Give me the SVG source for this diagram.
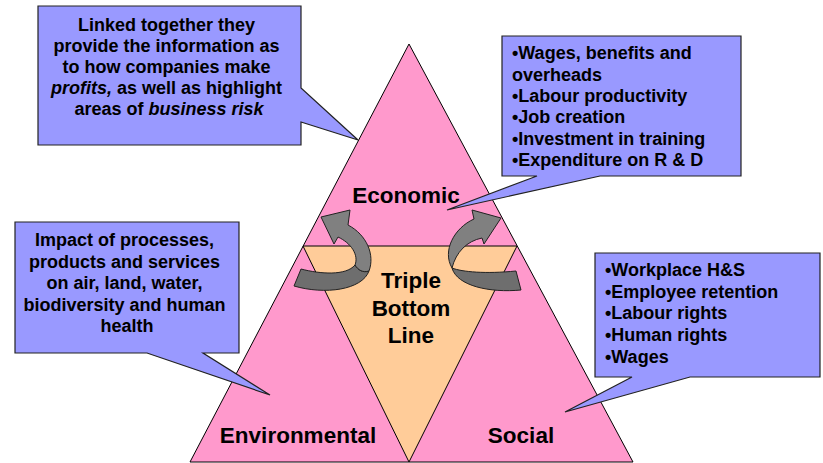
<svg xmlns="http://www.w3.org/2000/svg" width="823" height="463" viewBox="0 0 823 463">
<style>
.t{font-family:"Liberation Sans",Arial,sans-serif;font-weight:bold;fill:#000}
.c{font-size:18px}
.big{font-size:22.5px}
.call{fill:#9999FF;stroke:#222;stroke-width:1.2;stroke-linejoin:miter}
.arr{fill:#808080;stroke:#222;stroke-width:1;stroke-linejoin:round}
.arrd{fill:#6e6e6e;stroke:#222;stroke-width:1;stroke-linejoin:round}
</style>
<rect width="823" height="463" fill="#fff"/>
<g id="outer-triangle">
<path d="M409,44 L633,462 L190,462 Z" fill="#FF99CC" stroke="#000" stroke-width="1"/>
</g>
<g id="inner-triangle">
<path d="M303,246 L517,246 L409,462 Z" fill="#FFCC99" stroke="#000" stroke-width="1"/>
</g>
<g id="economic"><text class="t big" x="406" y="203" text-anchor="middle">Economic</text></g>
<g id="environmental"><text class="t big" x="298" y="443" text-anchor="middle">Environmental</text></g>
<g id="social"><text class="t big" x="521" y="443" text-anchor="middle">Social</text></g>
<g id="tbl">
<text class="t big" x="411" y="288" text-anchor="middle">Triple</text>
<text class="t big" x="411" y="316" text-anchor="middle">Bottom</text>
<text class="t big" x="411" y="343" text-anchor="middle">Line</text>
</g>
<g id="connectors">
<path class="arrd" d="M294,286 C325,295 362,290 369,271 C363,273 358,270 355,265 C346,276 320,274 301,269 Z"/>
<path class="arr" d="M355,265 C359,255 351,243 338,237 L334,244 L321,217 L350,210 L348,225 C367,235 375,255 369,271 C363,273 358,270 355,265 Z"/>
<path class="arrd" d="M452,268 C457,286 490,293 521,290 L516,271 C486,274 462,272 452,268 Z"/>
<path class="arr" d="M452,268 C442,251 454,228 474,219 L472,210 L501,218 L484,244 L482,238 C467,241 456,252 452,268 Z"/>
</g>
<g id="callout-top-left">
<path class="call" d="M38,6 H301 V88 L358,140 L301,122 V145 H38 Z"/>
<text class="t c" text-anchor="middle">
<tspan x="169" y="31">Linked together they</tspan>
<tspan x="169" y="52">provide the information as</tspan>
<tspan x="169" y="73">to how companies make</tspan>
<tspan x="169" y="94"><tspan font-style="italic">profits,</tspan> as well as highlight</tspan>
<tspan x="169" y="115">areas of <tspan font-style="italic">business risk</tspan></tspan>
</text>
</g>
<g id="callout-economic">
<path class="call" d="M502,36 H741 V176 H600 L447,210 L537,176 H502 Z"/>
<text class="t c">
<tspan x="512" y="59">•Wages, benefits and</tspan>
<tspan x="512" y="80.5">overheads</tspan>
<tspan x="512" y="102">•Labour productivity</tspan>
<tspan x="512" y="123">•Job creation</tspan>
<tspan x="512" y="144.5">•Investment in training</tspan>
<tspan x="512" y="166">•Expenditure on R &amp; D</tspan>
</text>
</g>
<g id="callout-environmental">
<path class="call" d="M15,222 H239 V353 H203 L270,395 L147,353 H15 Z"/>
<text class="t c" text-anchor="middle">
<tspan x="127" y="246">Impact of processes,</tspan>
<tspan x="127" y="267.5">products and services</tspan>
<tspan x="127" y="289">on air, land, water,</tspan>
<tspan x="127" y="310.5">biodiversity and human</tspan>
<tspan x="127" y="332">health</tspan>
</text>
</g>
<g id="callout-social">
<path class="call" d="M595,253 H820 V377 H690 L565,412 L632,377 H595 Z"/>
<text class="t c">
<tspan x="605" y="276">•Workplace H&amp;S</tspan>
<tspan x="605" y="297.5">•Employee retention</tspan>
<tspan x="605" y="319">•Labour rights</tspan>
<tspan x="605" y="341">•Human rights</tspan>
<tspan x="605" y="362.5">•Wages</tspan>
</text>
</g>
</svg>
